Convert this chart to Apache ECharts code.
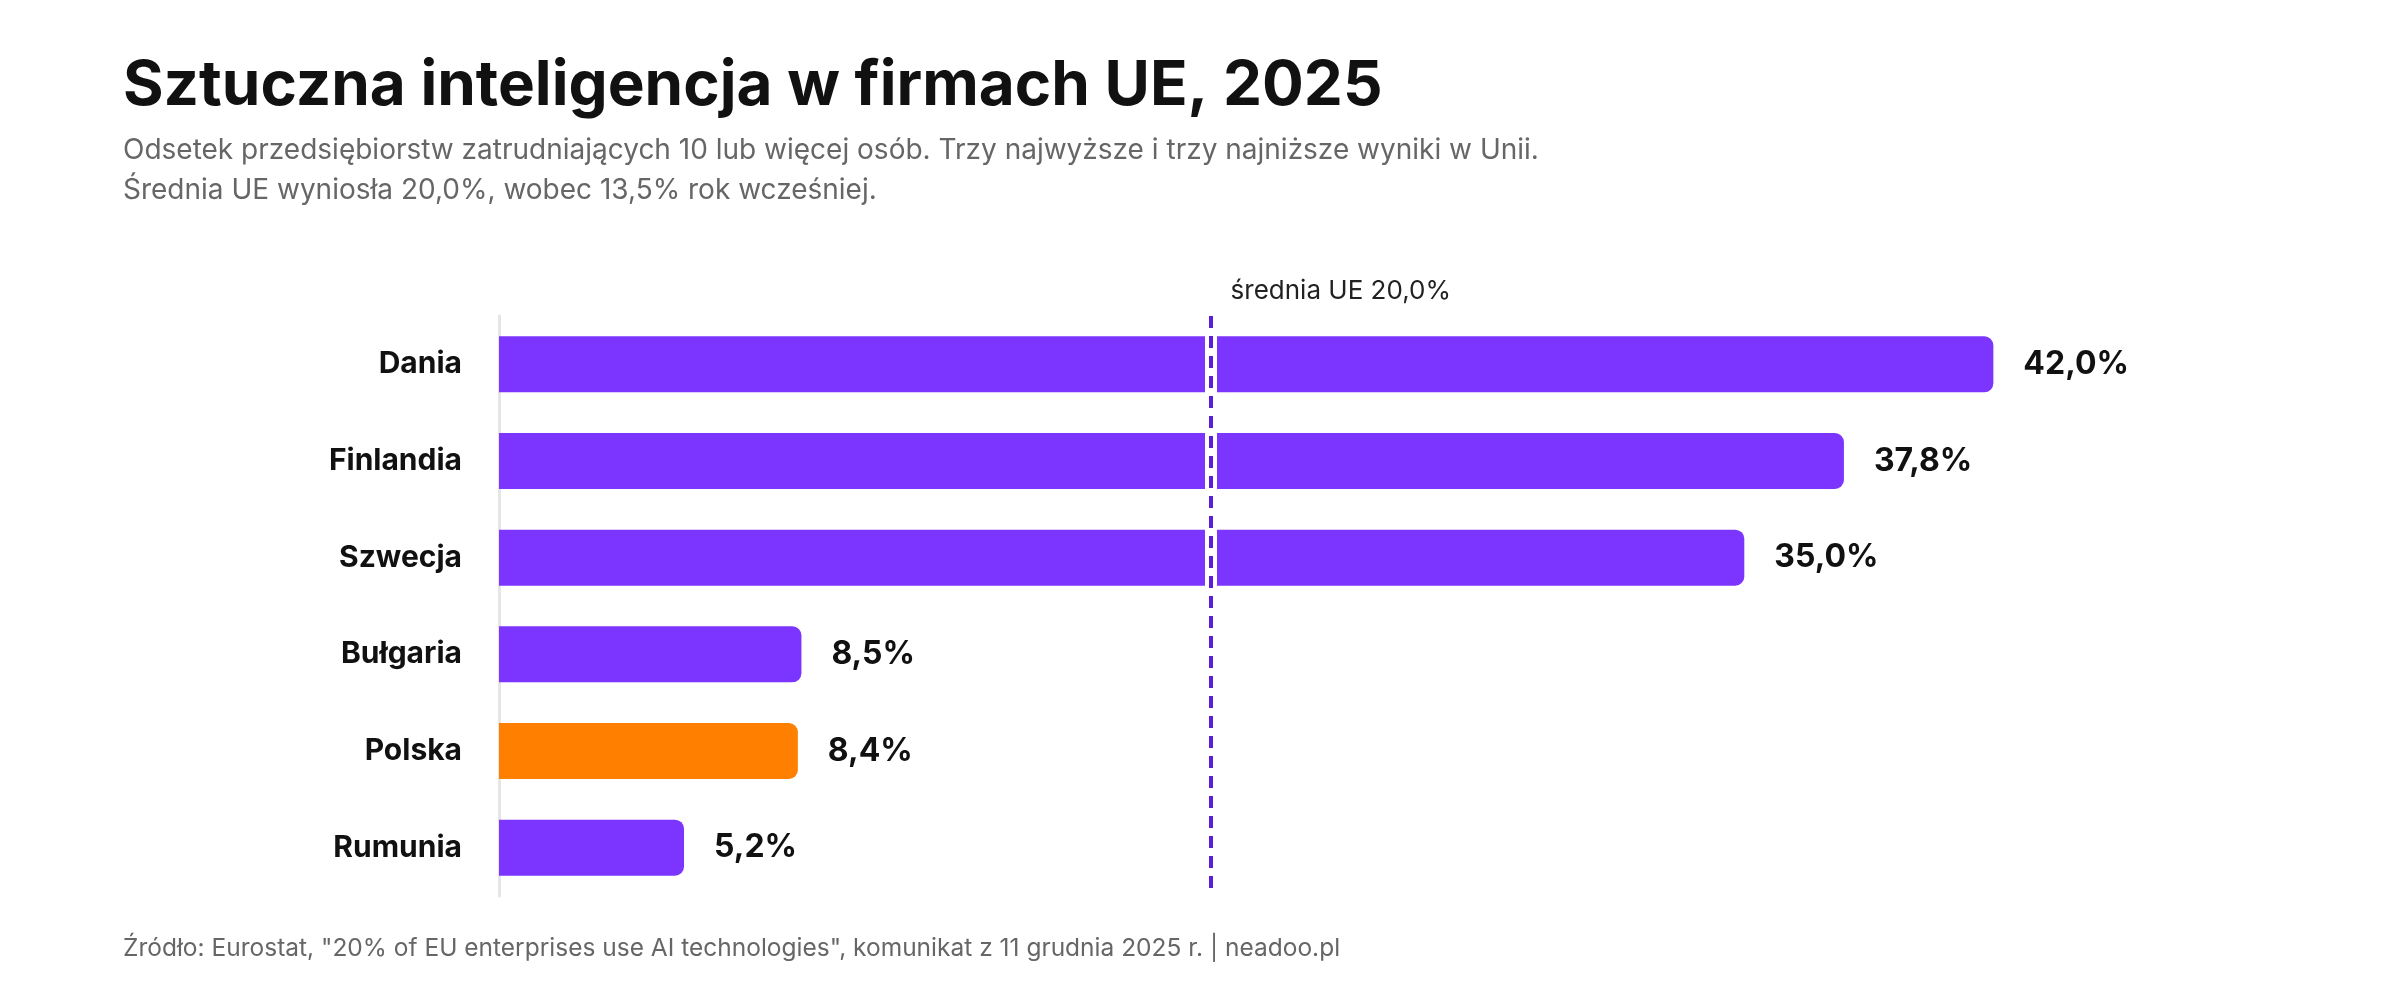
<!DOCTYPE html>
<html>
<head>
<meta charset="utf-8">
<script src="https://cdn.jsdelivr.net/npm/echarts@6/dist/echarts.min.js"></script>
<style>
  html, body { margin: 0; padding: 0; background: #fff; }
  #chart { width: 2400px; height: 1000px; }
</style>
</head>
<body>
<div id="chart"></div>
<script>
// dane: odsetek firm korzystających z AI
const countries = ["Dania", "Finlandia", "Szwecja", "Bułgaria", "Polska", "Rumunia"];
const values = [42.0, 37.8, 35.0, 8.5, 8.4, 5.2];
const highlight = "Polska";
const euAverage = 20.0;

const FONT = "Inter, 'Noto Sans', sans-serif";
const PURPLE = "#7C35FF";
const ORANGE = "#FF8000";

const fmt = (v) => v.toFixed(1).replace(".", ",") + "%";

const chart = echarts.init(document.getElementById("chart"));

chart.setOption({
  backgroundColor: "#fff",
  animation: false,
  title: [
    {
      text: "Sztuczna inteligencja w firmach UE, 2025",
      subtext: "Odsetek przedsiębiorstw zatrudniających 10 lub więcej osób. Trzy najwyższe i trzy najniższe wyniki w Unii.\nŚrednia UE wyniosła 20,0%, wobec 13,5% rok wcześniej.",
      left: 118,
      top: 50,
      itemGap: 14,
      textStyle: { fontFamily: FONT, fontSize: 62, fontWeight: 700, color: "#111" },
      subtextStyle: { fontFamily: FONT, fontSize: 28, color: "#666", lineHeight: 40 },
    },
    {
      text: "Źródło: Eurostat, \"20% of EU enterprises use AI technologies\", komunikat z 11 grudnia 2025 r. | neadoo.pl",
      left: 118,
      top: 931,
      textStyle: { fontFamily: FONT, fontSize: 24.5, fontWeight: 400, color: "#666" },
    },
  ],
  grid: { left: 499, right: 122, top: 316, bottom: 104, containLabel: false },
  xAxis: {
    type: "value",
    min: 0,
    max: 50,
    show: false,
  },
  yAxis: {
    type: "category",
    data: countries,
    inverse: true,
    axisLine: { show: true, lineStyle: { color: "#e6e6e6", width: 3 } },
    axisTick: { show: false },
    axisLabel: {
      margin: 37,
      fontFamily: FONT,
      fontSize: 30,
      fontWeight: 700,
      color: "#111",
    },
  },
  series: [
    {
      type: "bar",
      barWidth: 56,
      data: values.map((v, i) => ({
        value: v,
        itemStyle: { color: countries[i] === highlight ? ORANGE : PURPLE },
      })),
      itemStyle: { borderRadius: [0, 9, 9, 0] },
      label: {
        show: true,
        position: "right",
        distance: 30,
        fontFamily: FONT,
        fontSize: 32,
        fontWeight: 700,
        color: "#111",
        formatter: (p) => fmt(p.value),
      },
      markLine: {
        silent: true,
        symbol: "none",
        data: [
          {
            xAxis: euAverage,
            lineStyle: { color: "#fff", width: 12, type: "solid" },
            label: { show: false },
          },
          {
            xAxis: euAverage,
            lineStyle: { color: "#5B1FD8", width: 4, type: [12, 8] },
            label: {
              show: true,
              position: "start",
              align: "left",
              padding: [0, 0, 0, 20],
              distance: 12,
              fontFamily: FONT,
              fontSize: 26,
              color: "#222",
              formatter: "średnia UE " + fmt(euAverage),
            },
          },
        ],
      },
    },
  ],
});
</script>
</body>
</html>
